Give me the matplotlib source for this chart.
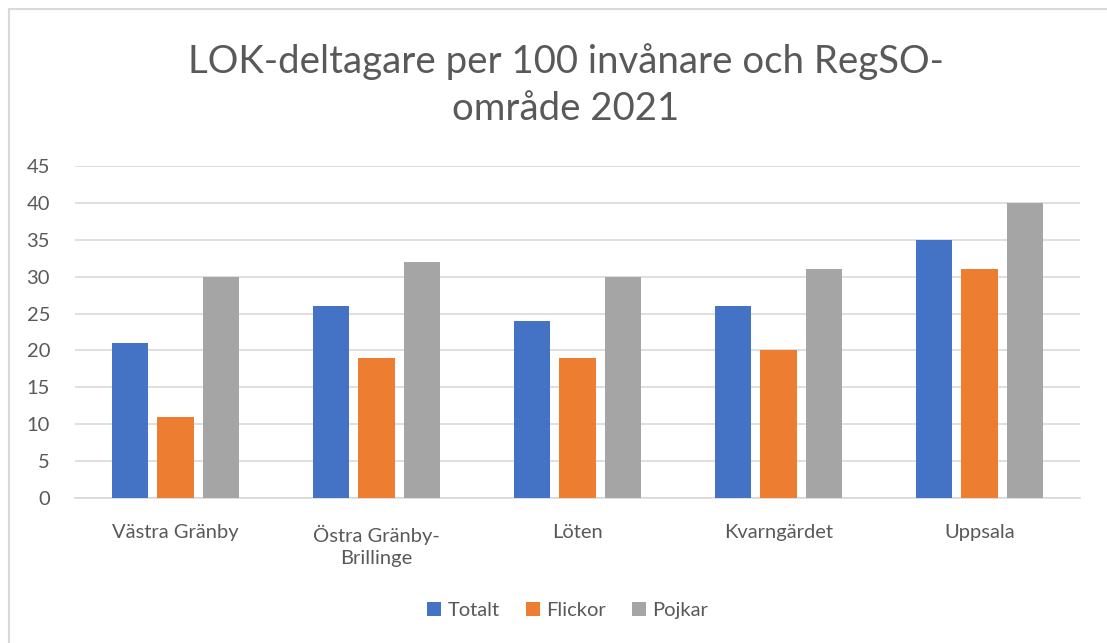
import matplotlib.pyplot as plt
from matplotlib.patches import Rectangle
import numpy as np

categories = ['Västra Gränby', 'Östra Gränby-\nBrillinge', 'Löten', 'Kvarngärdet', 'Uppsala']
totalt = [21, 26, 24, 26, 35]
flickor = [11, 19, 19, 20, 31]
pojkar = [30, 32, 30, 31, 40]
series = [('Totalt', totalt, '#4472C4'),
          ('Flickor', flickor, '#ED7D31'),
          ('Pojkar', pojkar, '#A5A5A5')]

plt.rcParams['font.family'] = ['Lato', 'DejaVu Sans']
text_col = '#595959'

fig = plt.figure(figsize=(11.07, 6.43), dpi=100)
ax = fig.add_axes([75 / 1107, 145 / 643, 1005 / 1107, 332 / 643])

x = np.arange(len(categories))
width = 0.18
offset = 0.227
for i, (name, vals, col) in enumerate(series):
    ax.bar(x + (i - 1) * offset, vals, width, color=col, label=name, zorder=3)

ax.set_xlim(-0.5, len(categories) - 0.5)
ax.set_ylim(0, 45)
ax.set_yticks(range(0, 46, 5))
ax.set_xticks(x)
ax.set_xticklabels(categories, linespacing=1.4)
ax.grid(axis='y', color='#D9D9D9', linewidth=1.2, zorder=0)
for s in ['top', 'right', 'left']:
    ax.spines[s].set_visible(False)
ax.spines['bottom'].set_color('#D9D9D9')
ax.spines['bottom'].set_linewidth(1.2)
ax.tick_params(axis='both', length=0, labelsize=14.5, colors=text_col)
ax.tick_params(axis='x', pad=19)
ax.tick_params(axis='y', pad=18)

fig.text(0.511, 1 - 85 / 643, 'LOK-deltagare per 100 invånare och RegSO-\nområde 2021',
         ha='center', va='center', fontsize=27.6, color=text_col, linespacing=1.37)

ax.legend(loc='center', bbox_to_anchor=(0.49, -0.34), ncol=3, frameon=False,
          fontsize=14.5, labelcolor=text_col, handlelength=0.7, handleheight=0.7,
          handletextpad=0.3, columnspacing=1.3)

# chart border (cut off on right and bottom like the source)
fig.patches.append(Rectangle((9 / 1107, -0.05), 1.2, 1 - 9 / 643 + 0.05,
                             transform=fig.transFigure, fill=False,
                             edgecolor='#D9D9D9', linewidth=1.5))

fig.savefig('out.png', dpi=100, facecolor='white')
